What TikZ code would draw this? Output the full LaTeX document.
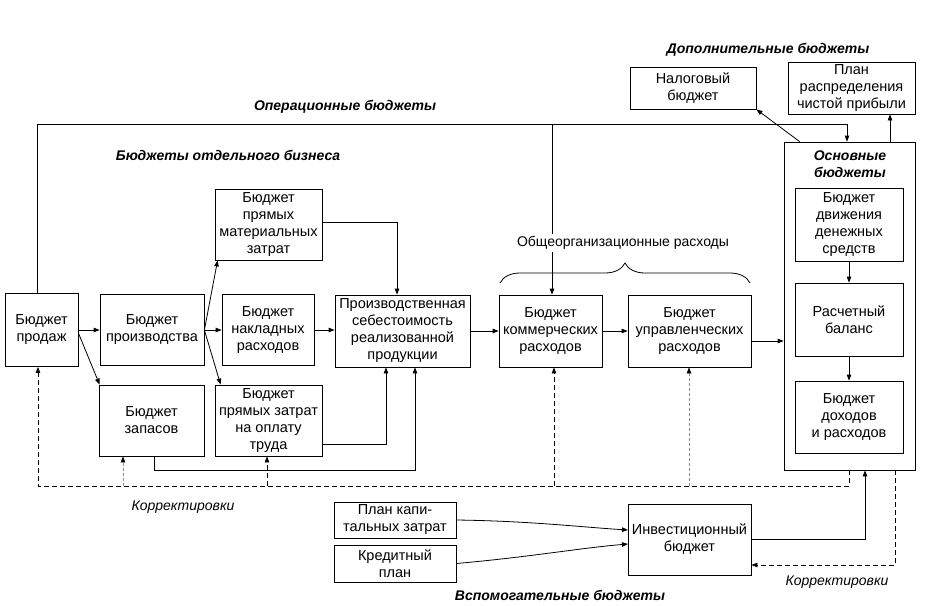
\documentclass[tikz,border=0pt]{standalone}
\usepackage{fontspec}
\setmainfont{Liberation Sans}
\usetikzlibrary{arrows.meta,decorations.pathreplacing}

\begin{document}
\begin{tikzpicture}[x=1pt,y=-1pt,
		box/.style={draw,line width=0.8pt,align=center,inner sep=1pt,font=\fontsize{14.5}{17}\selectfont},
		titel/.style={font=\fontsize{14}{17}\selectfont\bfseries\itshape,align=center,inner sep=1pt},
		remark/.style={font=\fontsize{14}{17}\selectfont\itshape,inner sep=1pt},
		line/.style={line width=0.8pt},
		arr/.style={line width=0.8pt,-{Triangle[length=6pt,width=4.5pt]}},
		dsh/.style={arr,dash pattern=on 5pt off 3pt},
		ldsh/.style={draw=black!45,line width=0.6pt,dash pattern=on 3pt off 2pt,-{Triangle[length=6pt,width=4.5pt,color=black]}}]
			\useasboundingbox (0,0) rectangle (928,605);
			%Centers of the boxes
			\coordinate (cProdazh) at (41.5,330);
			\coordinate (cProizv) at (152,330);
			\coordinate (cNakl) at (268,330);
			\coordinate (cSebest) at (402.5,331);
			\coordinate (cZapas) at (151.5,420.5);
			\coordinate (cTrud) at (268.5,420.5);
			\coordinate (cMat) at (268.5,224.5);
			\coordinate (cKomm) at (550.5,331);
			\coordinate (cUpr) at (689.5,331);
			\coordinate (cOsn) at (849.5,306);
			\coordinate (cDds) at (849,224.5);
			\coordinate (cBal) at (849,319.5);
			\coordinate (cDohod) at (849,417);
			\coordinate (cNalog) at (693,88);
			\coordinate (cPlan) at (851.5,88);
			\coordinate (cKap) at (395,520);
			\coordinate (cKred) at (395,563.5);
			\coordinate (cInvest) at (689.5,539.5);
			%Operational budgets
			\node [box,minimum width=73pt,minimum height=73pt] (prodazh) at (cProdazh) {Бюджет\\продаж};
			\node [box,minimum width=104pt,minimum height=71pt] (proizv) at (cProizv) {Бюджет\\производства};
			\node [box,minimum width=92pt,minimum height=71pt] (nakl) at (cNakl) {Бюджет\\накладных\\расходов};
			\node [box,minimum width=135pt,minimum height=72pt] (sebest) at (cSebest) {Производственная\\себестоимость\\реализованной\\продукции};
			\node [box,minimum width=105pt,minimum height=71pt] (zapas) at (cZapas) {Бюджет\\запасов};
			\node [box,minimum width=107pt,minimum height=71pt] (trud) at (cTrud) {Бюджет\\прямых затрат\\на оплату\\труда};
			\node [box,minimum width=107pt,minimum height=71pt] (mat) at (cMat) {Бюджет\\прямых\\материальных\\затрат};
			\node [box,minimum width=103pt,minimum height=72pt] (komm) at (cKomm) {Бюджет\\коммерческих\\расходов};
			\node [box,minimum width=123pt,minimum height=72pt] (upr) at (cUpr) {Бюджет\\управленческих\\расходов};
			%Main budgets
			\node [box,minimum width=131pt,minimum height=328pt] (osn) at (cOsn) {};
			\node [titel] (osnTitel) at (850,164) {Основные\\бюджеты};
			\node [box,minimum width=108pt,minimum height=73pt] (dds) at (cDds) {Бюджет\\движения\\денежных\\средств};
			\node [box,minimum width=108pt,minimum height=73pt] (bal) at (cBal) {Расчетный\\баланс};
			\node [box,minimum width=108pt,minimum height=72pt] (dohod) at (cDohod) {Бюджет\\доходов\\и расходов};
			%Additional budgets
			\node [box,minimum width=126pt,minimum height=42pt] (nalog) at (cNalog) {Налоговый\\бюджет};
			\node [box,minimum width=127pt,minimum height=52pt] (plan) at (cPlan) {План\\распределения\\чистой прибыли};
			%Auxiliary budgets
			\node [box,minimum width=122pt,minimum height=36pt] (kap) at (cKap) {План капи-\\тальных затрат};
			\node [box,minimum width=122pt,minimum height=37pt] (kred) at (cKred) {Кредитный\\план};
			\node [box,minimum width=123pt,minimum height=71pt] (invest) at (cInvest) {Инвестиционный\\бюджет};
			%Group titles
			\node [titel] (tOper) at (345,107) {Операционные бюджеты};
			\node [titel] (tBiz) at (228,155) {Бюджеты отдельного бизнеса};
			\node [titel] (tDop) at (768,50) {Дополнительные бюджеты};
			\node [titel] (tVsp) at (560,595) {Вспомогательные бюджеты};
			\node [remark] (tKorrL) at (183,507) {Корректировки};
			\node [remark] (tKorrR) at (837,582) {Корректировки};
			%Line over the operational budgets
			\coordinate (opR) at (847,124);
			\coordinate (opM) at (552,124);
			\draw [arr] ([xshift=-4.5pt]prodazh.north) |- (opR) -- (opR |- osn.north);
			\draw [arr] (opM) -- (opM |- komm.north);
			%Brace of the general expenses
			\draw [line,decorate,decoration={brace,amplitude=20pt}] (500,283) -- (750,283);
			\node [fill=white,inner sep=2pt,font=\fontsize{14}{17}\selectfont] (tObsch) at (623,243) {Общеорганизационные расходы};
			%Arrows inside the business budgets
			\draw [arr] (prodazh.east |- proizv.west) -- (proizv.west);
			\draw [arr] ([yshift=-3pt]prodazh.east) -- ([xshift=1pt]zapas.north west);
			\draw [arr] (proizv.east) -- (nakl.west);
			\draw [arr] (proizv.east) -- ([xshift=3pt]mat.south west);
			\draw [arr] (proizv.east) -- ([xshift=6pt]trud.north west);
			\draw [arr] (nakl.east) -- (nakl.east -| sebest.west);
			\coordinate (mr) at (397,222);
			\draw [arr] (mat.east |- mr) -- (mr) -- (mr |- sebest.north);
			\coordinate (tr) at (386,444);
			\draw [arr] (trud.east |- tr) -- (tr) -- (tr |- sebest.south);
			\coordinate (zb) at (154,470);
			\coordinate (zr) at (415,470);
			\draw [arr] (zapas.south -| zb) -- (zb) -- (zr) -- (zr |- sebest.south);
			\draw [arr] (sebest.east) -- (sebest.east -| komm.west);
			\draw [arr] (komm.east) -- (komm.east -| upr.west);
			\coordinate (ur) at (751,341);
			\draw [arr] (ur) -- (ur -| osn.west);
			%Arrows inside the main budgets
			\draw [arr] (dds.south) -- (bal.north);
			\draw [arr] (bal.south) -- (dohod.north);
			\coordinate (pu) at (890,142);
			\draw [arr] (pu) -- (pu |- plan.south);
			\draw [arr] ([xshift=16pt]osn.north west) -- (nalog.south east);
			%Corrections
			\coordinate (korrR) at (849,486);
			\coordinate (korrL) at (38,486);
			\draw [dsh] (osn.south -| korrR) -- (korrR) -- (korrL) -- (korrL |- prodazh.south);
			\foreach \kx/\kto/\kst in {123/zapas/ldsh,267/trud/dsh,554/komm/dsh,689/upr/ldsh} {
				\coordinate (k\kto) at (\kx,486);
				\draw [\kst] (k\kto) -- (k\kto |- \kto.south);
			}
			%Investment budget
			\coordinate (ir) at (865,539);
			\draw [arr] (invest.east |- ir) -- (ir) -- (ir |- osn.south);
			\coordinate (korrB) at (895,565);
			\draw [dsh] (osn.south -| korrB) -- (korrB) -- (korrB -| invest.east);
			\draw [arr] (kap.east) .. controls (530,521) and (580,527) .. (628,530);
			\draw [arr] (kred.east) .. controls (530,557) and (580,548) .. (628,544);
\end{tikzpicture}
\end{document}
